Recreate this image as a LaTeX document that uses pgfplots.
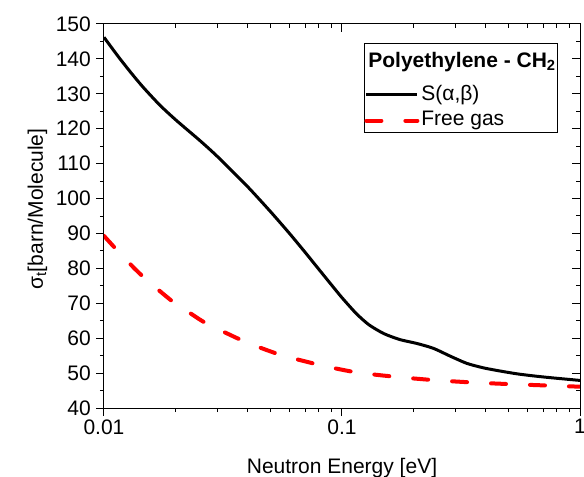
\documentclass[border=0pt]{standalone}
\usepackage{fontspec}
\setmainfont{Liberation Sans}
\usepackage{pgfplots}
\pgfplotsset{compat=1.18}

% total cross section, S(alpha,beta)
\pgfplotstableread{
E       sab
0.0100  146.2
0.0115  140.6
0.0130  136.0
0.0146  131.9
0.0172  126.7
0.0202  122.3
0.0253  116.6
0.0300  112.0
0.0400  103.5
0.0500  96.3
0.0600  90.1
0.0700  84.6
0.0800  79.7
0.0900  75.4
0.1000  71.6
0.1150  67.0
0.1300  63.8
0.1500  61.3
0.1750  59.6
0.2060  58.5
0.2420  57.1
0.2840  54.9
0.3340  52.8
0.3930  51.5
0.4610  50.6
0.5420  49.8
0.6370  49.2
0.7480  48.7
1.0000  47.9
}\sabdata

% free gas model
\pgfplotstableread{
E       free
0.0100  89.3
0.0120  83.4
0.0146  77.6
0.0195  70.4
0.0237  66.6
0.0270  64.2
0.0391  59.0
0.0548  55.3
0.0809  52.3
0.1150  50.2
0.1700  48.9
0.2420  48.0
0.3560  47.3
0.5250  46.8
1.0000  46.1
}\freedata

\begin{document}
\begin{tikzpicture}
\useasboundingbox (-104bp,-69bp) rectangle (480bp,408bp);
\pgfplotsset{
  common/.style={
    scale only axis, width=476bp, height=384bp,
    at={(0,0)}, anchor=south west,
    xmin=0.01, xmax=1, ymin=40, ymax=150,
    xtick={0.01,0.1,1}, ytick={40,50,...,150}, minor y tick num=1,
    major tick length=8bp, minor tick length=4bp,
    every tick/.style={black, line width=1pt},
    axis line style={line width=1pt},
  }
}
% top and right ticks point inwards
\begin{semilogxaxis}[common,
    tick align=inside, xtick pos=right, ytick pos=right,
    xticklabels={}, yticklabels={}]
\end{semilogxaxis}
\begin{semilogxaxis}[common,
    tick align=outside, xtick pos=left, ytick pos=left,
    xticklabels={0.01,0.1,1},
    /pgf/number format/assume math mode=true,
    ticklabel style={font=\fontsize{21bp}{25bp}\selectfont},
    yticklabel style={inner xsep=5bp},
    label style={font=\fontsize{21bp}{25bp}\selectfont},
    xlabel={Neutron Energy [eV]},
    xlabel style={at={(axis description cs:0.5,-0.1693)}, anchor=base},
    ylabel={σ\textsubscript{t}[barn/Molecule]},
    ylabel style={at={(axis description cs:-0.1282,0.518)}, anchor=base},
    legend style={at={(0.9538,0.9505)}, anchor=north east,
      draw=black, line width=0.8pt, font=\fontsize{21bp}{25bp}\selectfont,
      inner xsep=0pt, inner ysep=0.5bp, row sep=3bp,
      nodes={inner sep=2bp, text depth=}},
    legend cell align=left,
    legend image code/.code={\draw[#1] (0bp,0bp) -- (51bp,0bp);},
]
\addlegendimage{empty legend}
\addlegendentry{\hspace*{-53bp}\rule[-10.4bp]{0pt}{31.9bp}\textbf{Polyethylene - CH\textsubscript{2}}}
\addplot[black, line width=3bp, smooth, tension=0.4] table[x=E, y=sab] {\sabdata};
\addlegendentry{S(α,β)}
\addplot[red, line width=4bp, smooth, tension=0.4, dash pattern=on 15bp off 24bp, line cap=round] table[x=E, y=free] {\freedata};
\addlegendentry{Free gas}
\end{semilogxaxis}
\end{tikzpicture}
\end{document}
